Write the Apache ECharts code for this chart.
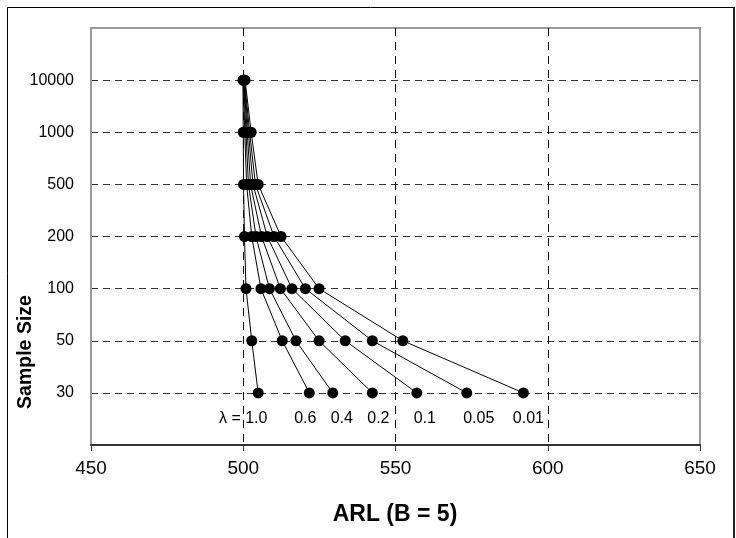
<!DOCTYPE html>
<html>
<head>
<meta charset="utf-8">
<script src="https://cdn.jsdelivr.net/npm/echarts@6/dist/echarts.min.js"></script>
<style>
html,body{margin:0;padding:0;background:#fff;}
#chart{width:736px;height:538px;}
</style>
</head>
<body>
<div id="chart"></div>
<script>
// ---- data ----
const sampleSizes = ['30', '50', '100', '200', '500', '1000', '10000'];
const lambdas = ['1.0', '0.6', '0.4', '0.2', '0.1', '0.05', '0.01'];
// ARL for each lambda, ordered by sample size (30 ... 10000)
const arl_1_0  = [504.9, 502.8, 500.9, 500.4, 500.1, 500.0, 499.9];
const arl_0_6  = [521.7, 512.8, 505.8, 502.8, 501.1, 500.5, 500.0];
const arl_0_4  = [529.4, 517.3, 508.6, 504.2, 501.7, 500.9, 500.1];
const arl_0_2  = [542.4, 524.9, 512.2, 506.0, 502.4, 501.3, 500.2];
const arl_0_1  = [557.0, 533.5, 516.0, 507.9, 503.2, 501.7, 500.3];
const arl_0_05 = [573.4, 542.4, 520.4, 510.1, 504.0, 502.1, 500.4];
const arl_0_01 = [592.0, 552.4, 524.9, 512.4, 504.9, 502.6, 500.6];
const xTicks = [450, 500, 550, 600, 650];

const arlSeries = [arl_1_0, arl_0_6, arl_0_4, arl_0_2, arl_0_1, arl_0_05, arl_0_01];

// ---- styles ----
const FONT = "'Liberation Sans', Arial, sans-serif";
const labelOffsets = [[-15, 26], [-4, 26], [9, 26], [6, 26], [8, 26], [12, 26], [5, 26]];

const series = arlSeries.map((vals, s) => ({
  type: 'line',
  name: lambdas[s],
  symbol: 'circle',
  symbolSize: 11,
  lineStyle: { color: '#000', width: 1 },
  itemStyle: { color: '#000' },
  z: 3,
  data: vals.map((v, i) => {
    const item = { value: [v, i + 1] };
    if (i === 0) {
      item.label = {
        show: true,
        position: 'inside',
        offset: labelOffsets[s],
        formatter: s === 0 ? 'λ = ' + lambdas[s] : lambdas[s],
        color: '#000',
        fontSize: 16,
        fontFamily: FONT
      };
    }
    return item;
  })
}));

const chart = echarts.init(document.getElementById('chart'), null, { renderer: 'canvas' });
chart.setOption({
  animation: false,
  backgroundColor: '#fff',
  grid: {
    left: 91, right: 36, top: 28, bottom: 93,
    show: true, borderColor: '#9a9a9a', borderWidth: 2, backgroundColor: '#fff'
  },
  xAxis: {
    type: 'value',
    min: xTicks[0], max: xTicks[xTicks.length - 1], interval: 50,
    axisLine: { show: true, lineStyle: { color: '#333', width: 2 } },
    axisTick: { show: true, length: 6, lineStyle: { color: '#333', width: 1 } },
    axisLabel: { color: '#000', fontSize: 19, fontFamily: FONT, margin: 14 },
    splitLine: {
      show: true,
      lineStyle: { color: ['transparent', '#111', '#111', '#111', 'transparent'], type: [8, 6], width: 1 }
    }
  },
  yAxis: {
    type: 'value',
    min: 0, max: 8, interval: 1,
    axisLine: { show: true, lineStyle: { color: '#9a9a9a', width: 2 } },
    axisTick: { show: false },
    axisLabel: {
      color: '#000', fontSize: 16, fontFamily: FONT, margin: 17,
      formatter: v => (v >= 1 && v <= sampleSizes.length) ? sampleSizes[v - 1] : ''
    },
    splitLine: {
      show: true,
      lineStyle: {
        color: ['transparent', '#333', '#333', '#333', '#333', '#333', '#333', '#333', 'transparent'],
        type: [7, 5], width: 1
      }
    }
  },
  graphic: [
    { type: 'rect', shape: { x: 7.5, y: 7.5, width: 726, height: 540 },
      style: { fill: 'none', stroke: '#000', lineWidth: 1 }, z: -10 },
    { type: 'line', shape: { x1: 734, y1: 7, x2: 734, y2: 538 },
      style: { stroke: '#222', lineWidth: 2 }, z: -10 },
    { type: 'text', x: 395, y: 515,
      style: { text: 'ARL (B = 5)', font: 'bold 23px ' + FONT, fill: '#000', textAlign: 'center', textVerticalAlign: 'middle' } },
    { type: 'text', x: 26, y: 352, rotation: Math.PI / 2,
      style: { text: 'Sample Size', font: 'bold 19.5px ' + FONT, fill: '#000', textAlign: 'center', textVerticalAlign: 'middle' } }
  ],
  series: series
});
</script>
</body>
</html>
